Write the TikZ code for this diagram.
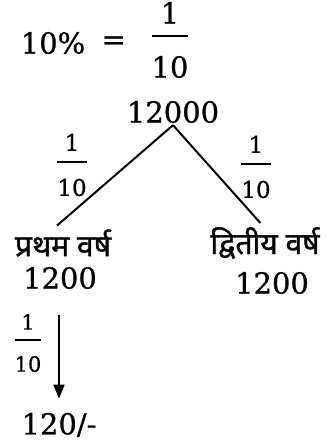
\documentclass[tikz,border=0pt]{standalone}
\usepackage{amsmath}
\usepackage{fontspec}
\setmainfont[RawFeature={embolden=0.8}]{DejaVu Serif}
\newfontfamily\hindi[Script=Devanagari, FakeBold=1.2]{Noto Sans}
\usetikzlibrary{positioning, arrows.meta}

\newcommand{\fr}[2]{$\genfrac{}{}{1.5pt}{0}{\mbox{\rule[-0.25em]{0pt}{0.25em}#1}}{\mbox{\rule{0pt}{1.25em}#2}}$}

\begin{document}
\begin{tikzpicture}[
		x=1pt, y=-1pt,
		num/.style={inner sep=2pt, font=\fontsize{29}{30}\selectfont},
		frac/.style={inner sep=0pt, font=\fontsize{23}{24}\selectfont},
		small frac/.style={inner sep=0pt, font=\fontsize{21}{22}\selectfont},
		year/.style={inner sep=1pt, font=\hindi\fontsize{30}{32}\selectfont},
		branch/.style={line width=2pt, shorten >=4pt},
		arrow/.style={-{Triangle[length=14pt, width=11pt]}, line width=1.7pt}
		]
		\useasboundingbox (0,0) rectangle (329,442);
		
		% Nodes
		\node[num] (pct) at (53,43) {10\%};
		\node[num, right=12pt of pct] (eq) {=};
		\node[num, inner sep=0pt] (rate) at (170,40) {\fr{1}{10}};
		
		\node[num] (total) at (173,112) {12000};
		
		\node[frac] (lrate) at (72,165) {\fr{1}{10}};
		\node[frac] (rrate) at (256,167) {\fr{1}{10}};
		
		\node[year] (first) at (63,243) {प्रथम वर्ष};
		\node[year] (second) at (265,243) {द्वितीय वर्ष};
		\node[num] (firstamt) at (60,278) {1200};
		\node[num] (secondamt) at (272,283) {1200};
		
		\node[small frac] (drate) at (28,343) {\fr{1}{10}};
		\node[num] (final) at (59,425) {120/-};
		
		% Arrows
		\draw[branch] (total.south) -- ([xshift=-9pt]first.north);
		\draw[branch] (total.south) -- ([xshift=-2pt]second.north);
		\draw[arrow, shorten <=24pt, shorten >=12pt] (firstamt.south -| final) -- (final.north);
		
	\end{tikzpicture}
\end{document}
